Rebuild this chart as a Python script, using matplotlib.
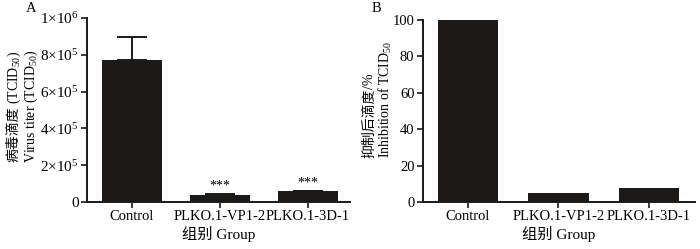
import numpy as np
import matplotlib
matplotlib.use('Agg')
import matplotlib.pyplot as plt

plt.rcParams['font.family'] = ['Liberation Serif', 'Noto Sans CJK SC']
plt.rcParams['mathtext.fontset'] = 'custom'
plt.rcParams['mathtext.rm'] = 'Liberation Serif'
plt.rcParams['mathtext.it'] = 'Liberation Serif'

groups = ['Control', 'PLKO.1-VP1-2', 'PLKO.1-3D-1']
titer = [770000, 40000, 58000]
titer_err = [125000, 3000, 4000]
inhibition = [100, 5, 7.5]

A_yticks = [0, 2e5, 4e5, 6e5, 8e5, 1e6]
A_ylabels = ['0', r'$2{\times}10^{5}$', r'$4{\times}10^{5}$', r'$6{\times}10^{5}$',
             r'$8{\times}10^{5}$', r'$1{\times}10^{6}$']
B_yticks = [0, 20, 40, 60, 80, 100]

col = '#1c1a18'
fs = 10.5
CJK = 'Noto Sans CJK SC'
SERIF = 'Liberation Serif'

fig = plt.figure(figsize=(7, 2.49), dpi=100)
axA = fig.add_axes([0.1243, 0.1888, 0.3757, 0.7389])
axB = fig.add_axes([0.604, 0.1888, 0.389, 0.7309])
renderer = fig.canvas.get_renderer()

def style(ax):
    ax.spines['top'].set_visible(False)
    ax.spines['right'].set_visible(False)
    for s in ['left', 'bottom']:
        ax.spines[s].set_linewidth(1.4)
        ax.spines[s].set_color(col)
    ax.tick_params(axis='both', which='major', labelsize=fs, direction='out',
                   length=4, width=1.2, color=col, pad=2)

# vertical label made of pieces in different fonts, starts at (x, y) in pixels from top-left
def vlabel(parts, x, y, size):
    yd = 249 - y
    for s, fam, gap in parts:
        t = fig.text(x / 700, (yd + gap) / 249, s, rotation=90, rotation_mode='anchor',
                     ha='left', va='baseline', fontsize=size, family=fam)
        yd = t.get_window_extent(renderer).y1

x = np.arange(len(groups))

# Panel A
axA.bar(x, titer, width=0.68, color=col, zorder=2)
axA.errorbar(x, titer, yerr=[np.zeros(len(titer)), titer_err], fmt='none',
             ecolor=col, elinewidth=1.4, capsize=11, capthick=1.4, zorder=1)
for i in [1, 2]:
    axA.annotate('***', (x[i], titer[i] + titer_err[i]), xytext=(0, 1),
                 textcoords='offset points', ha='center', va='bottom', fontsize=10)
axA.set_xlim(-0.51, 2.48)
axA.set_ylim(0, 1e6)
axA.set_yticks(A_yticks)
axA.set_yticklabels(A_ylabels)
axA.set_xticks(x)
axA.set_xticklabels(groups)
style(axA)
axA.tick_params(axis='y', labelsize=11)
axA.set_xlabel('组别 Group', fontsize=11, labelpad=2)
vlabel([('病毒滴度', CJK, 0), ('(TCID$_{50}$)', SERIF, 3)], 18, 162, 10)
vlabel([('Virus titer (TCID$_{50}$)', SERIF, 0)], 35, 163, 10)
fig.text(26 / 700, 1 - 9 / 249, 'A', fontsize=fs, ha='left', va='center')

# Panel B
axB.bar(x, inhibition, width=0.67, color=col, zorder=2)
axB.set_xlim(-0.5, 2.51)
axB.set_ylim(0, 100)
axB.set_yticks(B_yticks)
axB.set_xticks(x)
axB.set_xticklabels(groups)
style(axB)
axB.set_xlabel('组别 Group', fontsize=11, labelpad=2)
vlabel([('抑制后滴度', CJK, 0), ('/%', SERIF, 0)], 373, 158, 10)
vlabel([('Inhibition of TCID$_{50}$', SERIF, 0)], 390, 158, 10)
fig.text(372 / 700, 1 - 9 / 249, 'B', fontsize=fs, ha='left', va='center')

plt.savefig('out.png', dpi=100)
